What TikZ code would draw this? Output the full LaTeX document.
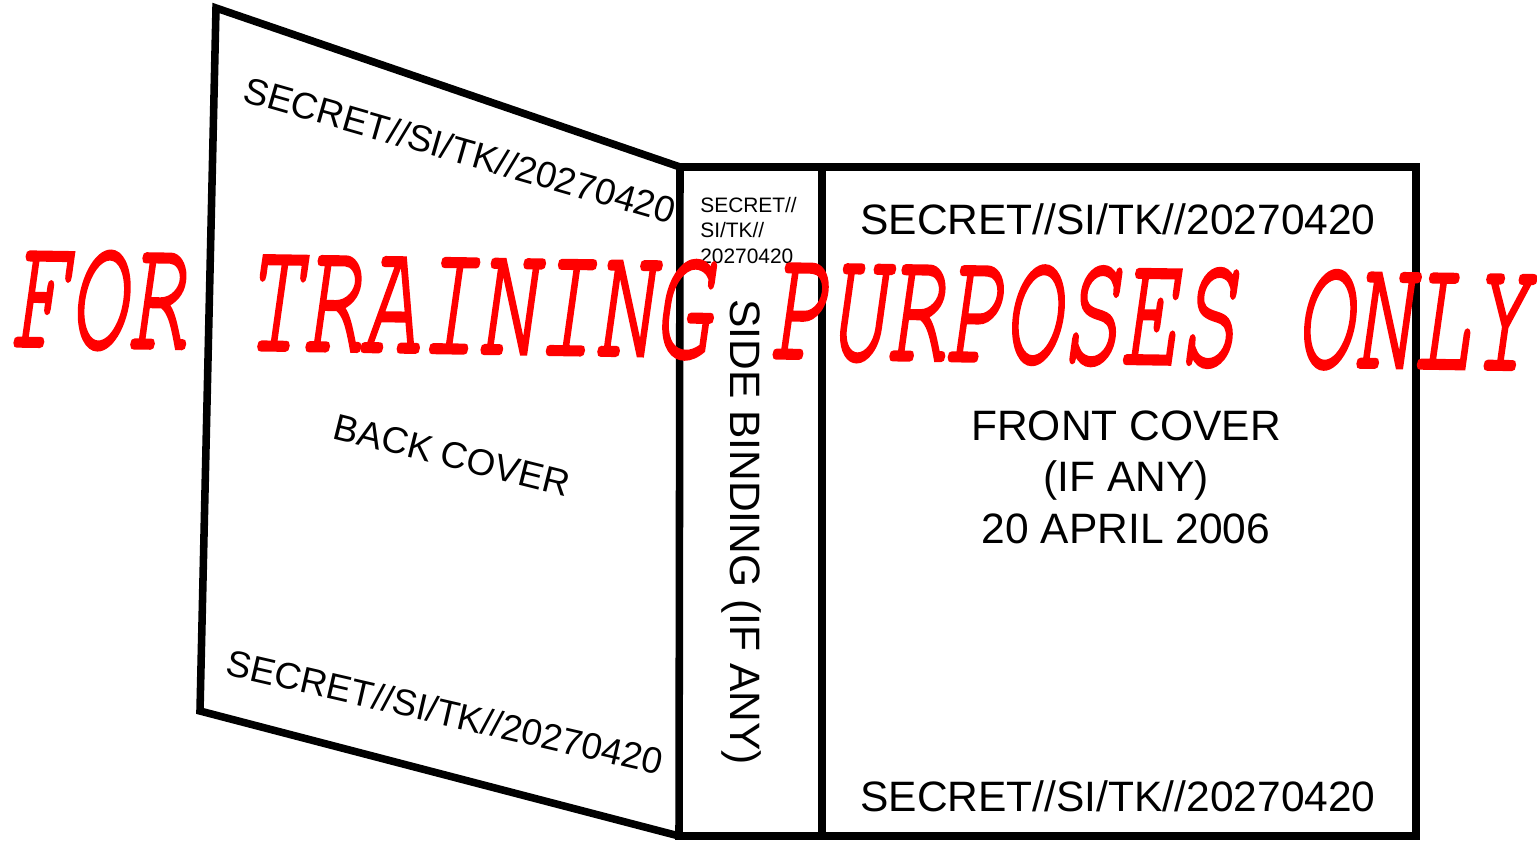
\documentclass[tikz,border=0pt]{standalone}
\usepackage{fontspec}
\setmainfont{Liberation Sans}
\newfontfamily\stampfont{texgyrecursor}[Extension=.otf, UprightFont=*-regular,
    ItalicFont=*-italic, BoldFont=*-bold, BoldItalicFont=*-bolditalic, FakeBold=2.6]

\begin{document}
\begin{tikzpicture}[x=0.02cm, y=-0.02cm,
        label/.style={inner sep=0pt, font=\fontsize{24.2}{29.5}\selectfont},
        backlabel/.style={inner sep=0pt, font=\fontsize{21}{25}\selectfont}]
        \tikzstyle{edge}=[line width=4.3pt, line join=miter]
        \useasboundingbox (0,0) rectangle (1537,841);

        \coordinate (back tl) at (216,   8);
        \coordinate (back bl) at (200, 711);
        \coordinate (spine tl) at (680, 167);
        \coordinate (spine bl) at (679, 836);
        \coordinate (spine tr) at (822, 167);
        \coordinate (spine br) at (822, 836);
        \coordinate (front tr) at (1416, 167);
        \coordinate (front br) at (1416, 836);

        \draw[edge] (spine tl) -- (back tl) -- (back bl) -- (spine bl);
        \draw[edge] (spine tl) -- (spine tr) -- (spine br) -- (spine bl) -- cycle;
        \draw[edge] (spine tr) -- (front tr) -- (front br) -- (spine br);

        \node[backlabel, rotate=-16] (back top)    at (460, 150) {SECRET//SI/TK//20270420};
        \node[backlabel, rotate=-14] (back title)  at (452, 455) {BACK COVER};
        \node[backlabel, rotate=-13] (back bottom) at (445, 712) {SECRET//SI/TK//20270420};

        \node[inner sep=0pt, anchor=north west, align=left, font=\fontsize{11.9}{14.5}\selectfont]
            (spine top) at (700, 197) {SECRET//\\SI/TK//\\20270420};
        \node[label, rotate=-90, anchor=base] (spine title) at (730, 532) {SIDE BINDING (IF ANY)};

        \node[label]                             (front top)    at (1118, 219) {SECRET//SI/TK//20270420};
        \node[label, align=center, anchor=north] (front title)  at (1126, 410) {FRONT COVER\\(IF ANY)\\20 APRIL 2006};
        \node[label]                             (front bottom) at (1118, 796) {SECRET//SI/TK//20270420};

        \node[text=red, inner sep=0pt, rotate=-0.9, yscale=1.7,
              font=\stampfont\itshape\fontsize{55.4}{60}\selectfont]
            (stamp) at (770, 311) {FOR TRAINING PURPOSES ONLY};
    \end{tikzpicture}
\end{document}
